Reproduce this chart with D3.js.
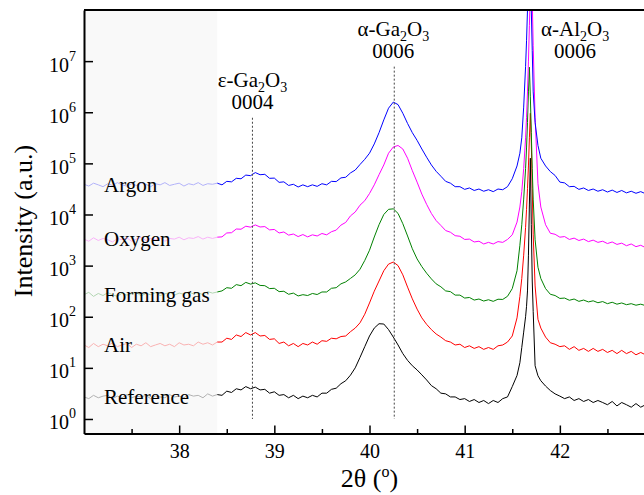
<!DOCTYPE html>
<html>
<head>
<meta charset="utf-8">
<script src="https://cdn.jsdelivr.net/npm/d3@7"></script>
<style>
  body { margin: 0; background: #fff; }
  svg { display: block; font-family: "Liberation Serif", "Times New Roman", serif; }
</style>
</head>
<body>
<div id="chart"></div>
<script>
// 2theta grid (deg), denser around the sapphire peak
var twoTheta = [
  37.00,37.05,37.10,37.15,37.20,37.25,37.30,37.35,37.40,37.45,37.50,37.55,37.60,37.65,37.70,
  37.75,37.80,37.85,37.90,37.95,38.00,38.05,38.10,38.15,38.20,38.25,38.30,38.35,38.40,
  38.45,38.50,38.55,38.60,38.65,38.70,38.75,38.80,38.85,38.90,38.95,39.00,39.05,39.10,39.15,
  39.20,39.25,39.30,39.35,39.40,39.45,39.50,39.55,39.60,39.65,39.70,39.75,39.80,39.85,39.90,
  39.95,40.00,40.05,40.10,40.15,40.20,40.25,40.30,40.35,40.40,40.45,40.50,40.55,40.60,40.65,
  40.70,40.75,40.80,40.85,40.90,40.95,41.00,41.05,41.10,41.15,41.20,41.25,41.30,41.35,41.40,41.45,
  41.50,41.55,41.58,41.60,41.62,41.64,41.65,41.66,41.67,41.68,41.69,41.70,41.71,41.72,41.74,41.77,41.80,41.85,
  41.90,41.95,42.00,42.05,42.10,42.15,42.20,42.25,42.30,42.35,42.40,42.45,42.50,42.55,42.60,42.65,
  42.70,42.75,42.80,42.85,42.90
];

var reference = [
  2.7,2.5,2.9,2.6,2.8,2.9,2.5,2.8,2.6,3.0,2.6,2.8,2.7,2.9,2.5,2.8,2.7,2.6,3.0,2.7,2.8,2.6,3.0,2.8,2.9,2.6,3.1,2.8,3.0,
  2.9,3.5,3.3,3.9,3.7,4.3,3.9,4.2,3.7,3.8,3.2,3.4,2.9,3.0,2.6,2.9,2.5,2.8,2.6,2.9,2.7,3.2,3.2,3.8,4.0,4.9,5.6,7.2,10,16,
  26,42,60,73,72,56,40,28,19,14,11,9.1,7.3,5.8,4.5,3.9,3.2,3.1,2.7,2.7,2.4,2.5,2.2,2.4,2.1,2.3,2.0,2.3,2.1,2.5,2.7,
  4.3,7.1,12.6,25,50,100,160,320,1600,16000,126000,6300,500,126,11,7.0,5.6,4.4,
  3.6,3.1,2.8,2.5,2.7,2.3,2.5,2.2,2.4,2.1,2.3,2.1,1.9,2.2,1.8,2.1,1.9,1.7,2.0,1.7,1.9
];
var air = [
  28,25,30,26,29,27,31,26,28,30,25,29,27,31,26,28,30,27,29,26,31,28,29,27,32,29,31,28,32,
  32,38,36,44,41,49,44,49,42,43,36,37,30,32,27,30,26,30,28,32,29,34,33,38,37,41,42,51,60,76,
  112,186,316,500,794,1070,1175,1000,660,380,224,141,95,71,56,46,40,34,32,28,29,25,27,24,26,23,25,23,27,28,32,
  42,95,250,560,1600,5600,12600,32000,89000,316000,955000,250000,32000,4000,400,89,60,40,
  31,29,26,27,23,26,22,24,21,24,21,23,20,22,19,22,19,21,18,20,18
];
var formingGas = [
  270,300,250,285,260,295,270,250,290,265,280,300,255,285,270,295,260,280,300,265,290,275,305,280,295,270,310,290,305,
  320,370,360,425,405,470,435,460,410,405,355,360,310,315,275,290,255,270,260,285,272,305,305,360,370,440,480,562,660,850,
  1260,2000,3630,6310,10000,12600,12900,10500,6600,3800,2140,1350,955,710,550,440,385,320,310,265,265,232,238,212,222,203,215,200,220,218,251,
  355,794,2500,6300,20000,79000,200000,630000,2500000,7600000,2000000,400000,79000,20000,3200,930,560,355,
  275,260,228,232,210,222,200,212,195,205,188,198,180,192,176,186,172,180,168,176,165
];
var oxygen = [
  3300,3000,3500,3100,3400,3200,2900,3400,3200,3500,3000,3300,3600,3100,3400,3200,3500,3000,3400,3300,3600,3200,3500,3400,3700,3300,3600,3400,3600,
  3650,4350,4400,5200,5150,5900,5650,6250,5700,5800,5000,5100,4350,4550,3950,4150,3700,4050,3650,4000,3800,4250,4000,4600,4950,6200,7000,9400,11200,15200,
  18600,25700,38000,60000,93000,158000,209000,224000,191000,126000,72000,43000,25000,15800,10500,7600,6100,4850,4500,3850,3750,3250,3300,2900,3000,2650,2850,2650,2950,2850,3250,
  4000,7100,14000,28000,79000,316000,794000,2500000,1e7,5e7,2.5e8,6.3e8,1.6e8,2e7,794000,40000,14000,6300,
  4300,4100,3600,3700,3250,3450,3100,3300,2950,3150,2850,3000,2700,2900,2600,2750,2450,2650,2350,2500,2250
];
var argon = [
  39000,36000,41000,38000,35000,40000,37000,42000,38000,36000,40000,37000,41000,39000,35000,40000,38000,42000,37000,39000,41000,36000,40000,38000,42000,37000,40000,39000,41000,
  38000,44500,43500,51000,50000,59000,57500,66000,60000,61000,51000,51500,42500,43500,37000,39000,34500,38000,35000,38000,35500,40000,38000,44500,44000,52000,53500,65000,74000,95000,
  120000,158000,240000,398000,708000,1200000,1580000,1410000,955000,603000,398000,282000,191000,132000,93300,70000,56000,44500,41000,35000,35000,31000,33000,29500,31500,28500,30500,28000,31500,30500,35000,
  50000,89000,158000,316000,1260000,7.9e6,2.5e7,1e8,4e8,1e9,4e8,1e8,1.6e7,2.5e6,630000,224000,126000,89000,
  69000,58000,43000,41500,35000,35500,31000,33000,29500,31500,28500,30500,27500,30000,27000,29500,26500,28500,26000,28000,25500
];

var sampleNames = ['Reference', 'Air', 'Forming gas', 'Oxygen', 'Argon'];
var sampleSeries = [reference, air, formingGas, oxygen, argon];
var sampleColors = ['#000000', '#ff0000', '#008000', '#ff00ff', '#0000ff'];

var xTicks = [38, 39, 40, 41, 42];
var xMinorTicks = [37.5, 38.5, 39.5, 40.5, 41.5, 42.5];
var yTicks = [1e0, 1e1, 1e2, 1e3, 1e4, 1e5, 1e6, 1e7];

// reflection annotations
var peakPhase = ['ε', 'α', 'α'];
var peakMetal = ['Ga', 'Ga', 'Al'];
var peakIndex = ['0004', '0006', '0006'];
var peakLabelX = [38.77, 40.25, 42.16];
var peakLineX = [38.77, 40.26, null];
var peakLineTop = [7.8e5, 7.8e6, 7.8e6];

var shadeEnd = 38.4;

var width = 644,
  height = 495;

var svg = d3.select('#chart').append('svg')
  .attr('width', width)
  .attr('height', height);

var x = d3.scaleLinear().domain([37, 42.9]).range([84, 645.5]);
var y = d3.scaleLog().domain([0.52, 1e8]).range([433.5, 10]);

svg.append('clipPath').attr('id', 'plotclip')
  .append('rect')
  .attr('x', x.range()[0])
  .attr('y', y.range()[1])
  .attr('width', x.range()[1] - x.range()[0])
  .attr('height', y.range()[0] - y.range()[1]);

var line = d3.line()
  .x(function(d, i) { return x(twoTheta[i]); })
  .y(function(d) { return y(d); });

var curves = svg.append('g').attr('clip-path', 'url(#plotclip)');

curves.selectAll('path')
  .data(sampleSeries)
  .enter().append('path')
  .attr('d', line)
  .style('fill', 'none')
  .style('stroke', function(d, i) { return sampleColors[i]; })
  .style('stroke-width', 1);

// faded low-angle region
svg.append('rect')
  .attr('x', x(37))
  .attr('y', y.range()[1])
  .attr('width', x(shadeEnd) - x(37))
  .attr('height', y.range()[0] - y.range()[1])
  .style('fill', '#f6f6f6')
  .style('opacity', 0.72);

// sample names
svg.selectAll('.name')
  .data(sampleNames)
  .enter().append('text')
  .attr('class', 'name')
  .attr('x', x(37.21))
  .attr('y', function(d, i) { return y(sampleSeries[i][0]); })
  .attr('dy', '0.35em')
  .style('font-size', '21px')
  .style('fill', '#000')
  .text(function(d) { return d; });

// dotted reference lines
peakLineX.forEach(function(p, i) {
  if (p === null) return;
  svg.append('line')
    .attr('x1', x(p))
    .attr('x2', x(p))
    .attr('y1', y(peakLineTop[i]))
    .attr('y2', y(1))
    .style('stroke', '#444')
    .style('stroke-width', 1)
    .style('stroke-dasharray', '2,2');
});

peakPhase.forEach(function(ph, i) {
  var base = y(peakLineTop[i]) - 8.5;
  var t1 = svg.append('text')
    .attr('x', x(peakLabelX[i]))
    .attr('y', base - 22)
    .attr('text-anchor', 'middle')
    .style('font-size', '21px');
  t1.append('tspan').text(ph + '-' + peakMetal[i]);
  t1.append('tspan').attr('dy', 5).style('font-size', '14px').text('2');
  t1.append('tspan').attr('dy', -5).text('O');
  t1.append('tspan').attr('dy', 5).style('font-size', '14px').text('3');

  svg.append('text')
    .attr('x', x(peakLabelX[i]))
    .attr('y', base)
    .attr('text-anchor', 'middle')
    .style('font-size', '21px')
    .text(peakIndex[i]);
});

// frame
svg.append('line')
  .attr('x1', x.range()[0])
  .attr('x2', x.range()[1])
  .attr('y1', y.range()[1])
  .attr('y2', y.range()[1])
  .style('stroke', '#000')
  .style('stroke-width', 2);

var xAxis = svg.append('g')
  .attr('transform', 'translate(0,' + y.range()[0] + ')')
  .call(d3.axisBottom(x).tickValues(xTicks).tickSize(-8).tickSizeOuter(0).tickPadding(10)
    .tickFormat(d3.format('d')));

svg.append('g')
  .attr('transform', 'translate(0,' + y.range()[0] + ')')
  .call(d3.axisBottom(x).tickValues(xMinorTicks).tickSize(-4.5).tickSizeOuter(0).tickFormat(''))
  .select('.domain').remove();

var yAxis = svg.append('g')
  .attr('transform', 'translate(' + x.range()[0] + ',0)')
  .call(d3.axisLeft(y).tickValues(yTicks).tickSize(-9).tickSizeOuter(0).tickPadding(8));

svg.selectAll('.domain').style('stroke-width', 2);
svg.selectAll('.tick line').style('stroke-width', 1.5);
svg.selectAll('.tick text')
  .style('font-family', '"Liberation Serif", "Times New Roman", serif')
  .style('font-size', '20px')
  .style('fill', '#000');

yAxis.selectAll('.tick text')
  .attr('dy', 10)
  .each(function(d) {
    var t = d3.select(this).text('');
    t.append('tspan').text('10');
    t.append('tspan').attr('dy', -11).style('font-size', '14px').text(Math.round(Math.log10(d)));
  });

// axis titles
var xTitle = svg.append('text')
  .attr('x', x(40))
  .attr('y', 487)
  .attr('text-anchor', 'middle')
  .style('font-size', '26px');
xTitle.append('tspan').text('2θ (');
xTitle.append('tspan').attr('dy', -10).style('font-size', '16px').text('o');
xTitle.append('tspan').attr('dy', 10).text(')');

svg.append('text')
  .attr('transform', 'translate(32,221) rotate(-90)')
  .attr('text-anchor', 'middle')
  .style('font-size', '26px')
  .text('Intensity (a.u.)');
</script>
</body>
</html>
